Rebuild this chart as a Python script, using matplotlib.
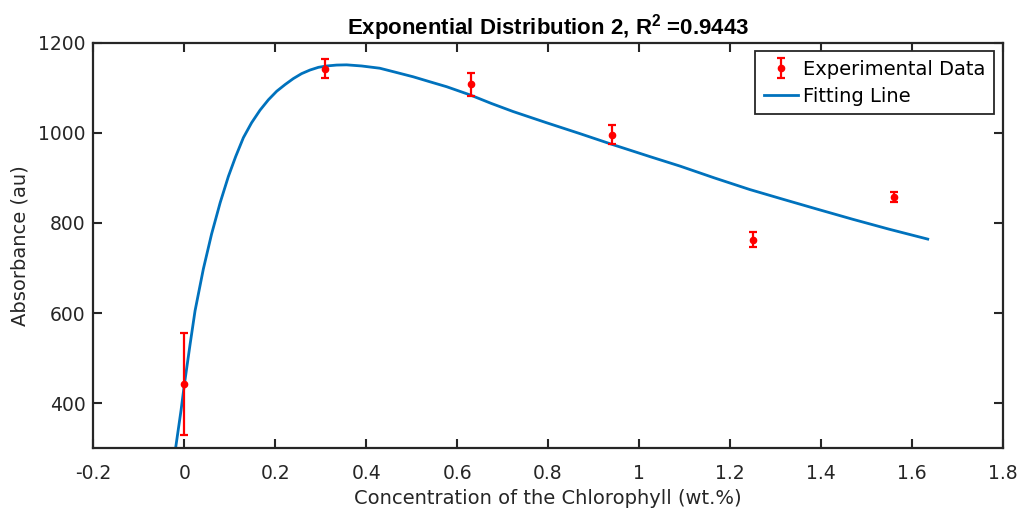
import matplotlib
matplotlib.use("Agg")
import matplotlib.pyplot as plt

plt.rcParams['font.family'] = ['DejaVu Sans']
plt.rcParams['mathtext.fontset'] = 'custom'
plt.rcParams['mathtext.rm'] = 'Liberation Sans'
plt.rcParams['mathtext.bf'] = 'Liberation Sans:bold'

# Experimental data
conc = [0.0, 0.31, 0.63, 0.94, 1.25, 1.56]
absorb = [442, 1142, 1107, 995, 763, 858]
err = [113, 21, 25, 21, 16, 11]

# Fitting line
fit_x = [-0.0187, -0.007, 0.0, 0.0127, 0.0237, 0.042, 0.060, 0.079, 0.097, 0.113,
         0.130, 0.148, 0.1666, 0.185, 0.2033, 0.222, 0.2398, 0.258, 0.2765, 0.295,
         0.3132, 0.335, 0.357, 0.39, 0.43, 0.465, 0.5035, 0.54, 0.577, 0.628,
         0.675, 0.723, 0.797, 0.87, 0.938, 1.024, 1.09, 1.165, 1.2435, 1.318,
         1.39, 1.47, 1.55, 1.635]
fit_y = [303, 385, 440, 530, 605, 698, 775, 845, 903, 947,
         989, 1022, 1050, 1073, 1092, 1107, 1120, 1131, 1139, 1145,
         1148, 1150, 1150.5, 1148, 1143, 1134, 1124, 1113, 1102, 1084,
         1065, 1047, 1022, 998, 975, 947, 926, 900, 874, 852,
         831, 808, 786, 764]

fig = plt.figure(figsize=(10.2, 5.13), dpi=100)
ax = fig.add_axes([0.0915, 0.1261, 0.8916, 0.791])

eb = ax.errorbar(conc, absorb, yerr=err, fmt='o', color='#FF0000', ecolor='#FF0000',
                 markersize=4.5, capsize=2.6, elinewidth=1.6, capthick=1.6,
                 label='Experimental Data', zorder=3)
ln, = ax.plot(fit_x, fit_y, color='#0072BD', linewidth=2, label='Fitting Line', zorder=2)

ax.set_xlim(-0.2, 1.8)
ax.set_ylim(300, 1200)
ax.set_xticks([-0.2, 0, 0.2, 0.4, 0.6, 0.8, 1, 1.2, 1.4, 1.6, 1.8])
ax.set_xticklabels(['-0.2', '0', '0.2', '0.4', '0.6', '0.8', '1', '1.2', '1.4', '1.6', '1.8'])
ax.set_yticks([400, 600, 800, 1000, 1200])

col = '#262626'
for s in ax.spines.values():
    s.set_color(col)
    s.set_linewidth(1.6)
ax.tick_params(direction='in', length=6.5, width=1.5, colors=col, labelsize=13.5,
               top=True, right=True)
ax.tick_params(axis='x', pad=11.5)
ax.tick_params(axis='y', pad=5.5)
for lbl in ax.get_xticklabels() + ax.get_yticklabels():
    lbl.set_color(col)

ax.set_xlabel('Concentration of the Chlorophyll (wt.%)', fontsize=14, color=col, labelpad=4)
ax.set_ylabel('Absorbance (au)', fontsize=14, color=col, labelpad=6)
ax.set_title('Exponential Distribution 2, R$^{\\mathbf{2}}$ =0.9443', fontsize=16,
             fontweight='bold', family='Liberation Sans', color='black', pad=6)

leg = ax.legend([eb, ln], ['Experimental Data', 'Fitting Line'], loc='upper right',
                fontsize=14, fancybox=False, framealpha=1, edgecolor=col,
                borderaxespad=0.45, handlelength=1.75, handletextpad=0.25,
                borderpad=0.45, labelspacing=0.39)
leg.get_frame().set_linewidth(1.3)

fig.savefig('out.png', dpi=100)
